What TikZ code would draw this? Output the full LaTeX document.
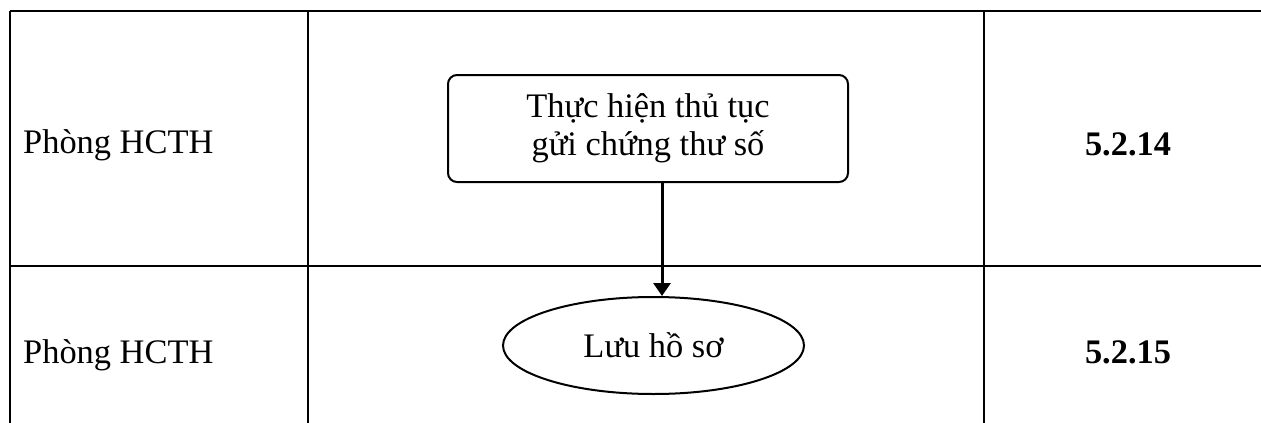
\documentclass[tikz,border=0pt]{standalone}
\usepackage{fontspec}
\setmainfont{Liberation Serif}
\usetikzlibrary{shapes.geometric,arrows.meta}
\tikzset{
  grid/.style={line width=2.7pt},
  lbl/.style={font=\fontsize{34.4}{38}\selectfont, inner sep=0pt},
  procbox/.style={draw, line width=2pt, rounded corners=9pt, minimum width=400pt, minimum height=107pt, align=center, inner sep=0pt, font=\fontsize{34.4}{38}\selectfont},
  endell/.style={draw, ellipse, line width=2pt, minimum width=301pt, minimum height=97pt, inner sep=0pt, font=\fontsize{34.4}{38}\selectfont},
  flow/.style={line width=3pt, -{Triangle[width=17pt,length=13pt]}}
}
\begin{document}
\begin{tikzpicture}[x=1pt,y=-1pt]
\useasboundingbox (0,0) rectangle (1261,423);
% table grid
\draw[grid] (10,11) -- (1261,11);
\draw[grid] (10,266) -- (1261,266);
\draw[grid] (10,11) -- (10,423);
\draw[grid] (308,11) -- (308,423);
\draw[grid] (984,11) -- (984,423);
% labels
\node[lbl, anchor=base west] (u1) at (23,153) {Phòng HCTH};
\node[lbl, anchor=base west] (u2) at (23,363) {Phòng HCTH};
\node[lbl, anchor=base, font=\fontsize{34.4}{38}\selectfont\bfseries] (n1) at (1128,155) {5.2.14};
\node[lbl, anchor=base, font=\fontsize{34.4}{38}\selectfont\bfseries] (n2) at (1128,363) {5.2.15};
% flow
\node[procbox] (box) at (648,128.5) {Thực hiện thủ tục\\gửi chứng thư số};
\node[endell] (ell) at (653.5,345.5) {Lưu hồ sơ};
\coordinate (ax) at (662,0);
\draw[flow] (box.south -| ax) -- (ell.north -| ax);
\end{tikzpicture}
\end{document}
